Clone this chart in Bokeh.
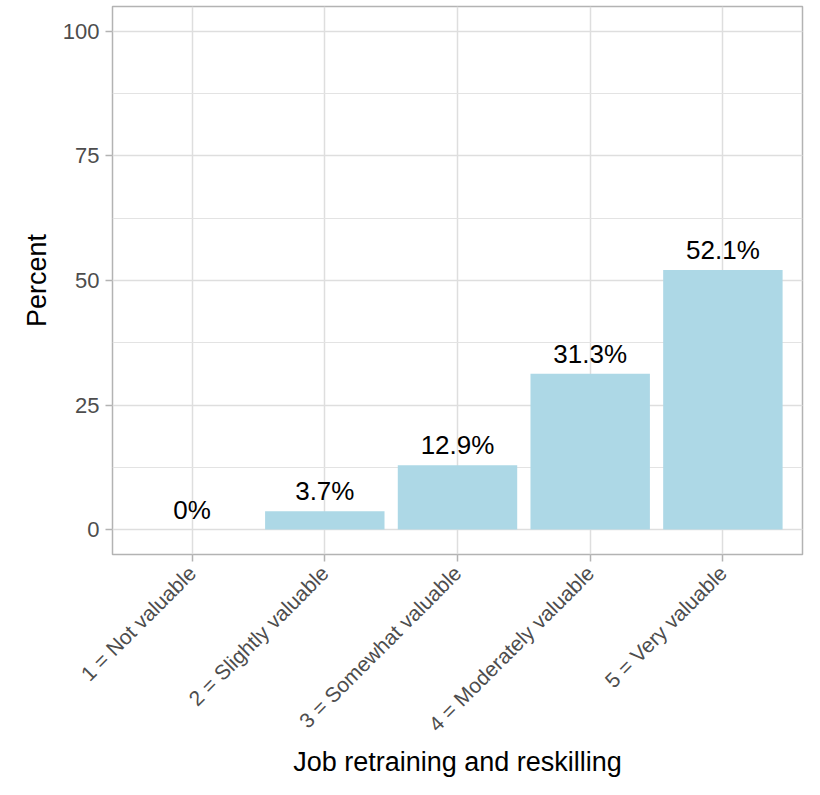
import math
from bokeh.plotting import figure
from bokeh.models import ColumnDataSource, FixedTicker, SingleIntervalTicker, Range1d
from bokeh.core.properties import value
from bokeh.embed import file_html
from bokeh.resources import INLINE

categories = ["1 = Not valuable", "2 = Slightly valuable", "3 = Somewhat valuable",
              "4 = Moderately valuable", "5 = Very valuable"]
percents = [0.0, 3.7, 12.9, 31.3, 52.1]
labels = ["0%", "3.7%", "12.9%", "31.3%", "52.1%"]
y_tick_interval = 25

positions = list(range(1, len(categories) + 1))
src = ColumnDataSource(dict(x=positions, top=percents, label=labels))

FONT = "Liberation Sans"
p = figure(width=804, height=779, output_backend="svg", toolbar_location=None,
           x_range=Range1d(0.4, 5.6), y_range=Range1d(-5, 105),
           min_border_left=112, min_border_right=2, min_border_top=6, min_border_bottom=2)

p.vbar(x="x", top="top", bottom=0, width=0.9, source=src, fill_color="#ADD8E6", line_color=None)
p.text(x="x", y="top", text="label", source=src, text_align="center", text_baseline="bottom",
       y_offset=-5, text_font=value(FONT), text_font_size="26px", text_color="black")

p.outline_line_color = "#b3b3b3"
p.outline_line_width = 1.5
p.background_fill_color = "white"
p.border_fill_color = "white"

p.xaxis.ticker = FixedTicker(ticks=positions)
p.xaxis.major_label_overrides = {pos: c for pos, c in zip(positions, categories)}
p.xaxis.major_label_orientation = math.pi / 4
p.yaxis.ticker = SingleIntervalTicker(interval=y_tick_interval, num_minor_ticks=2)

for ax in (p.xaxis[0], p.yaxis[0]):
    ax.axis_line_color = None
    ax.major_tick_line_color = "#b3b3b3"
    ax.major_tick_line_width = 1.5
    ax.major_tick_in = 0
    ax.major_tick_out = 7
    ax.minor_tick_line_color = None
    ax.major_label_text_font = FONT
    ax.major_label_text_color = "#4d4d4d"
    ax.axis_label_text_font = FONT
    ax.axis_label_text_font_size = "27px"
    ax.axis_label_text_font_style = "normal"
    ax.axis_label_text_color = "black"

p.xaxis.major_label_text_font_size = "21px"
p.yaxis.major_label_text_font_size = "22px"
p.xaxis.axis_label = "Job retraining and reskilling"
p.yaxis.axis_label = "Percent"
p.xaxis.major_label_standoff = 8
p.yaxis.major_label_standoff = 6
p.xaxis.axis_label_standoff = 0
p.yaxis.axis_label_standoff = 8

p.xgrid.grid_line_color = "#dedede"
p.xgrid.grid_line_width = 1.5
p.ygrid.grid_line_color = "#dedede"
p.ygrid.grid_line_width = 1.5
p.ygrid.minor_grid_line_color = "#e3e3e3"
p.ygrid.minor_grid_line_width = 1.2

open("out.html", "w").write(file_html(p, INLINE))
